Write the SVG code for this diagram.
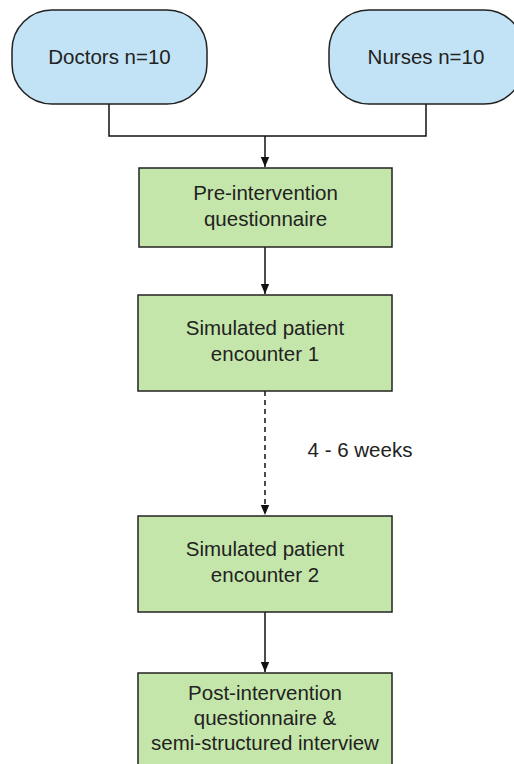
<svg xmlns="http://www.w3.org/2000/svg" width="514" height="764" viewBox="0 0 514 764">
<style>
.pill{fill:#c2e3f5;stroke:#222;stroke-width:1.5}
.box{fill:#c5e6aa;stroke:#222;stroke-width:1.5}
.t{font-family:"Liberation Sans",Arial,sans-serif;font-size:20.5px;fill:#222;text-anchor:middle}
.c{fill:none;stroke:#111;stroke-width:1.5}
</style>
<defs>
<marker id="ah" markerWidth="10" markerHeight="15" refX="10" refY="5" orient="auto" markerUnits="userSpaceOnUse" viewBox="0 0 10 10">
<path d="M0,0.8 L10,5 L0,9.2 Z" fill="#111"/>
</marker>
</defs>
<rect width="514" height="764" fill="#fff"/>
<g id="connectors">
<path class="c" d="M109,104 V136 H426 V104"/>
<path class="c" d="M265,136 V167" marker-end="url(#ah)"/>
<path class="c" d="M265,247 V294" marker-end="url(#ah)"/>
<path class="c" d="M265,391 V515" stroke-dasharray="5,4" marker-end="url(#ah)"/>
<path class="c" d="M265,612 V672" marker-end="url(#ah)"/>
</g>
<g id="doctors">
<rect class="pill" x="12" y="10" width="195" height="94" rx="40" ry="40"/>
<text class="t" x="109.5" y="63.5">Doctors n=10</text>
</g>
<g id="nurses">
<rect class="pill" x="329" y="10" width="195" height="94" rx="40" ry="40"/>
<text class="t" x="426" y="63.5">Nurses n=10</text>
</g>
<g id="pre">
<rect class="box" x="139" y="168" width="253" height="79"/>
<text class="t" x="265.5" y="200">Pre-intervention</text>
<text class="t" x="265.5" y="225.5">questionnaire</text>
</g>
<g id="sim1">
<rect class="box" x="138" y="295" width="254" height="96"/>
<text class="t" x="265" y="335">Simulated patient</text>
<text class="t" x="265" y="360.5">encounter 1</text>
</g>
<g id="weeks">
<text class="t" x="360" y="457">4 - 6 weeks</text>
</g>
<g id="sim2">
<rect class="box" x="138" y="516" width="254" height="96"/>
<text class="t" x="265" y="556">Simulated patient</text>
<text class="t" x="265" y="581.5">encounter 2</text>
</g>
<g id="post">
<rect class="box" x="138" y="673" width="254" height="100"/>
<text class="t" x="265" y="700">Post-intervention</text>
<text class="t" x="265" y="725">questionnaire &amp;</text>
<text class="t" x="265" y="750">semi-structured interview</text>
</g>
</svg>
